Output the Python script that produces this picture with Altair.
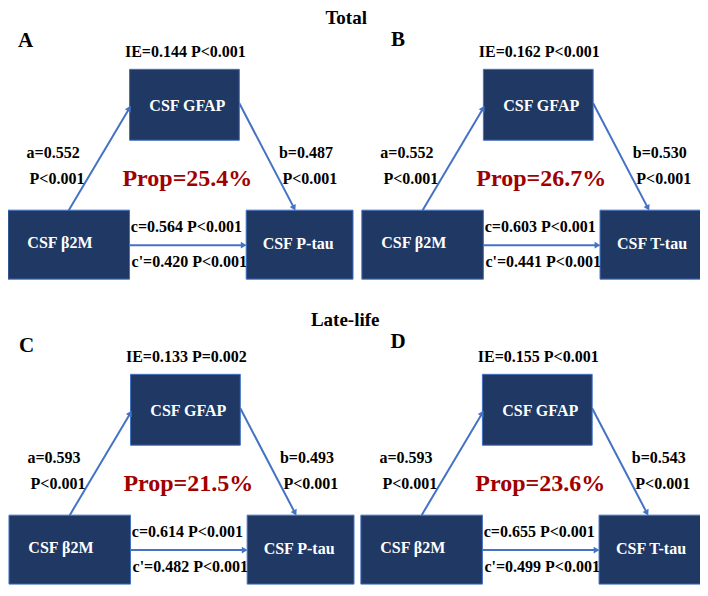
import math
import altair as alt
import pandas as pd

# ---------------- data ----------------
panels = ["A", "B", "C", "D"]
group_titles = ["Total", "Late-life"]
exposure = "CSF β2M"
mediator = "CSF GFAP"
outcomes = ["CSF P-tau", "CSF T-tau", "CSF P-tau", "CSF T-tau"]
ie_values = ["0.144", "0.162", "0.133", "0.155"]
ie_pvals = ["P<0.001", "P<0.001", "P=0.002", "P<0.001"]
a_values = ["0.552", "0.552", "0.593", "0.593"]
a_pvals = ["P<0.001", "P<0.001", "P<0.001", "P<0.001"]
b_values = ["0.487", "0.530", "0.493", "0.543"]
b_pvals = ["P<0.001", "P<0.001", "P<0.001", "P<0.001"]
c_values = ["0.564", "0.603", "0.614", "0.655"]
c_pvals = ["P<0.001", "P<0.001", "P<0.001", "P<0.001"]
cp_values = ["0.420", "0.441", "0.482", "0.499"]
cp_pvals = ["P<0.001", "P<0.001", "P<0.001", "P<0.001"]
prop_values = ["25.4%", "26.7%", "21.5%", "23.6%"]

# ---------------- layout (diagram template, canvas units) ----------------
X_DOM, Y_DOM = [2, 708], [4, 596]
panel_offsets = [(0, 0), (361, 0), (1, 314), (360, 314)]
letter_pos = [(20, 33), (400, 32), (21, 347), (400, 343)]
title_pos = [(347, 9), (346, 320)]
box_tpl = {
    "X": (2, 126, 207, 278),
    "M": (126, 238, 62, 135),
    "Y": (245, 354, 207, 278),
}
label_tpl = {"X": (55, 241), "M": (185, 100), "Y": (298, 242)}
arrow_tpl = [((64, 207), (127, 100)), ((238, 97), (295, 207)), ((126, 243), (245, 243))]
text_tpl = {
    "ie": (183, 44), "a": (48, 148), "ap": (52, 175), "b": (306, 148), "bp": (310, 175),
    "c": (184, 224), "cp": (187, 260), "prop": (185, 175),
}

boxes, labels, lines, heads, texts, props, letters, titles = [], [], [], [], [], [], [], []
for i, p in enumerate(panels):
    ox, oy = panel_offsets[i]
    for k, (x1, x2, y1, y2) in box_tpl.items():
        boxes.append(dict(x=x1 + ox, x2=x2 + ox, y=y1 + oy, y2=y2 + oy))
    names = {"X": exposure, "M": mediator, "Y": outcomes[i]}
    for k, (lx, ly) in label_tpl.items():
        labels.append(dict(x=lx + ox, y=ly + oy, t=names[k]))
    for (sx, sy), (ex, ey) in arrow_tpl:
        sx, sy, ex, ey = sx + ox, sy + oy, ex + ox, ey + oy
        dx, dy = ex - sx, ey - sy
        L = math.hypot(dx, dy)
        ux, uy = dx / L, dy / L
        hx, hy = ex - ux * 3.5, ey - uy * 3.5
        lines.append(dict(x=sx, y=sy, x2=hx, y2=hy))
        ang = math.degrees(math.atan2(dx, -dy)) % 360
        heads.append(dict(x=hx, y=hy, angle=ang))
    vals = {
        "ie": f"IE={ie_values[i]} {ie_pvals[i]}",
        "a": f"a={a_values[i]}", "ap": a_pvals[i],
        "b": f"b={b_values[i]}", "bp": b_pvals[i],
        "c": f"c={c_values[i]} {c_pvals[i]}",
        "cp": f"c'={cp_values[i]} {cp_pvals[i]}",
    }
    for k, v in vals.items():
        tx, ty = text_tpl[k]
        texts.append(dict(x=tx + ox, y=ty + oy, t=v))
    px, py = text_tpl["prop"]
    props.append(dict(x=px + ox, y=py + oy, t=f"Prop={prop_values[i]}"))
    letters.append(dict(x=letter_pos[i][0], y=letter_pos[i][1], t=p))
for j, g in enumerate(group_titles):
    titles.append(dict(x=title_pos[j][0], y=title_pos[j][1], t=g))

xs = alt.Scale(domain=X_DOM, nice=False, zero=False)
ys = alt.Scale(domain=Y_DOM, nice=False, zero=False, reverse=True)
X = lambda f="x": alt.X(f"{f}:Q", scale=xs, axis=None)
Y = lambda f="y": alt.Y(f"{f}:Q", scale=ys, axis=None)

BOX_FILL = "#203864"
BLUE = "#4472c4"
FONT = "'Liberation Serif', 'DejaVu Serif', serif"

rects = alt.Chart(pd.DataFrame(boxes)).mark_rect(
    fill=BOX_FILL, stroke=BLUE, strokeWidth=1, clip=True
).encode(x=X(), x2="x2:Q", y=Y(), y2="y2:Q")

arrows = alt.Chart(pd.DataFrame(lines)).mark_rule(color=BLUE, strokeWidth=2).encode(
    x=X(), y=Y(), x2="x2:Q", y2="y2:Q"
)

arrowheads = alt.Chart(pd.DataFrame(heads)).mark_point(
    shape="triangle", filled=True, color=BLUE, size=45, opacity=1
).encode(x=X(), y=Y(), angle=alt.Angle("angle:Q", scale=None))

box_labels = alt.Chart(pd.DataFrame(labels)).mark_text(
    font=FONT, fontSize=16, fontWeight="bold", color="white", baseline="middle", align="center"
).encode(x=X(), y=Y(), text="t:N")

annot = alt.Chart(pd.DataFrame(texts)).mark_text(
    font=FONT, fontSize=16, fontWeight="bold", color="black", baseline="middle", align="center"
).encode(x=X(), y=Y(), text="t:N")

prop_text = alt.Chart(pd.DataFrame(props)).mark_text(
    font=FONT, fontSize=24, fontWeight="bold", color="#a00000", baseline="middle", align="center"
).encode(x=X(), y=Y(), text="t:N")

letter_text = alt.Chart(pd.DataFrame(letters)).mark_text(
    font=FONT, fontSize=21, fontWeight="bold", color="black", baseline="middle", align="center"
).encode(x=X(), y=Y(), text="t:N")

title_text = alt.Chart(pd.DataFrame(titles)).mark_text(
    font=FONT, fontSize=19, fontWeight="bold", color="black", baseline="middle", align="center"
).encode(x=X(), y=Y(), text="t:N")

chart = alt.layer(
    arrows, rects, arrowheads, box_labels, annot, prop_text, letter_text, title_text
).properties(
    width=692, height=580,
    autosize=alt.AutoSizeParams(type="fit", contains="padding"),
    padding=0,
    background="white",
).configure_view(stroke=None)

chart.save("out.html", embed_options={"renderer": "svg", "actions": False})
